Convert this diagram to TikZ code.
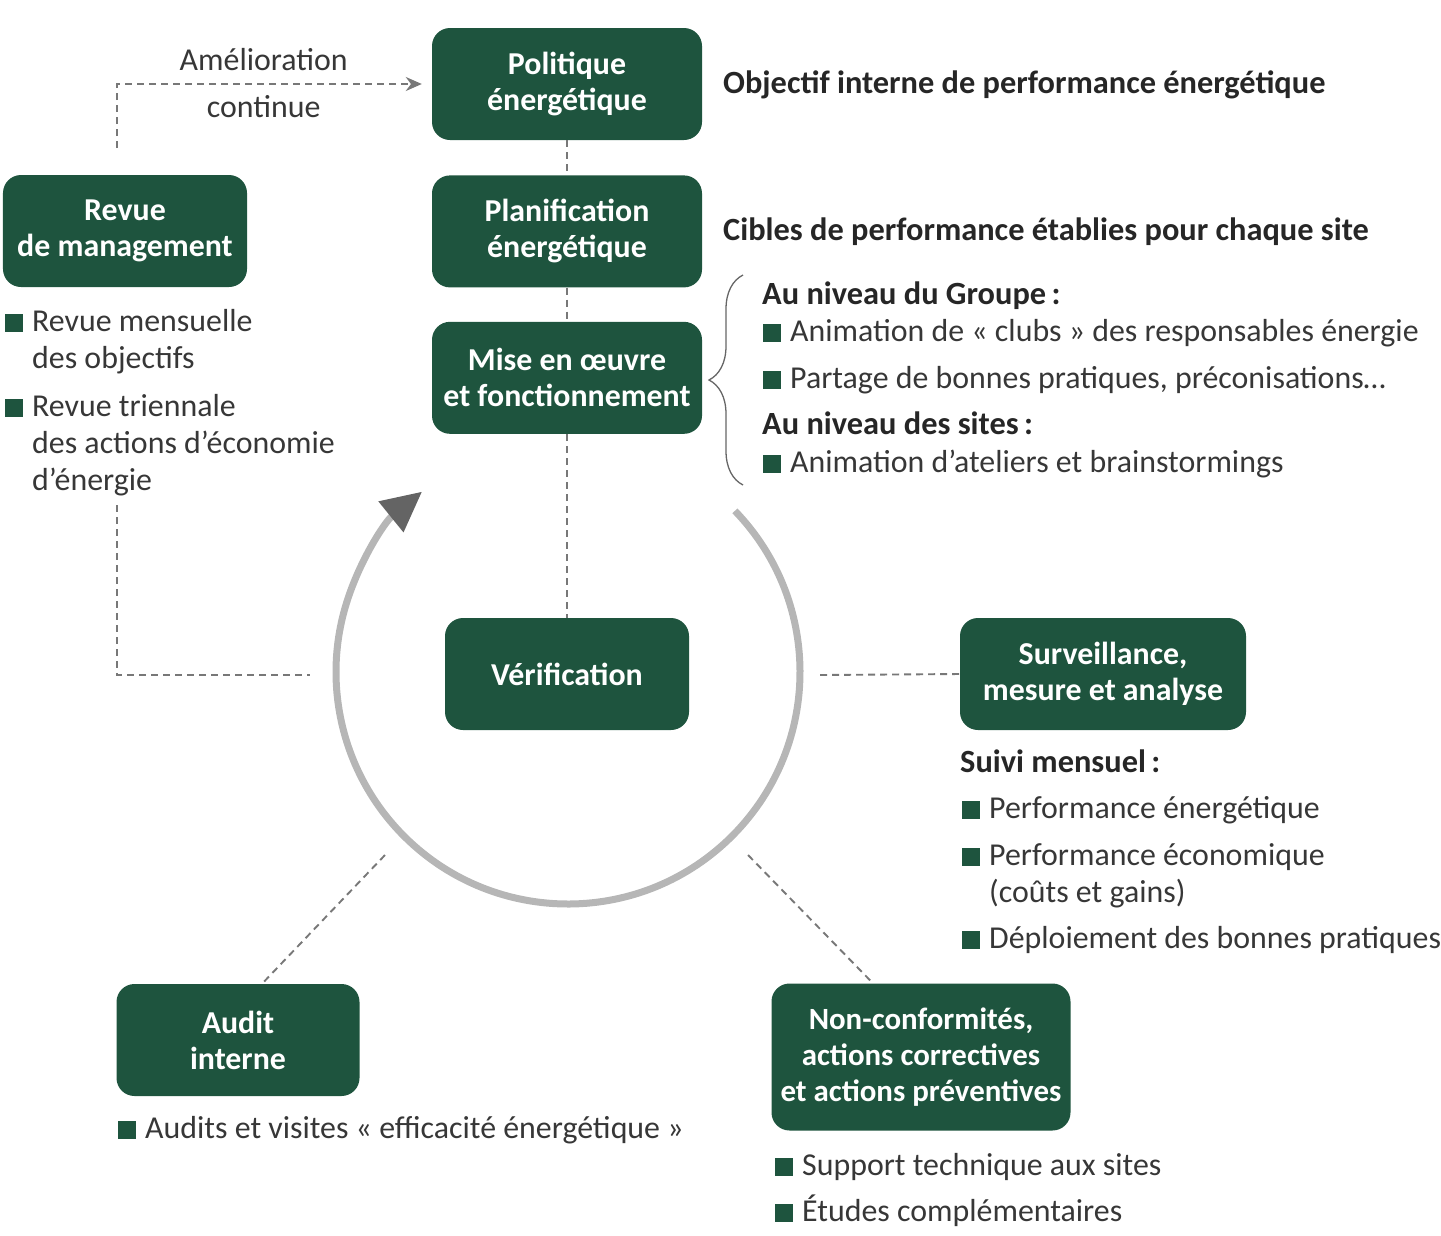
\documentclass[tikz,border=0pt]{standalone}
\usepackage{fontspec}
\setmainfont{Carlito}
\usepackage{tikz}
\usetikzlibrary{positioning, arrows.meta, decorations.pathreplacing, calc}
\definecolor{boxGreen}{RGB}{30,84,62}
\definecolor{textGray}{RGB}{55,55,55}
\definecolor{lineGray}{RGB}{120,120,120}
\definecolor{ringGray}{RGB}{182,182,182}
\definecolor{tipGray}{RGB}{100,100,100}
\tikzstyle{greenBox}=[fill=boxGreen, rounded corners=18bp, text=white, align=center,
  font=\bfseries\fontsize{32}{36}\selectfont, minimum height=112bp, inner sep=0pt]
\tikzstyle{dashLink}=[draw=lineGray, line width=1.9bp, dash pattern=on 7bp off 5bp]
\tikzstyle{ringArrow}=[draw=ringGray, line width=7bp,
  -{Triangle[length=40bp, width=38bp, color=tipGray]}]
\tikzstyle{listText}=[anchor=base west, inner sep=0pt, text=textGray, align=left,
  font=\fontsize{32}{37}\selectfont]
\tikzstyle{headText}=[anchor=base west, inner sep=0pt, text=black!85,
  font=\bfseries\fontsize{32.5}{37}\selectfont]
\newcommand{\sq}{{\color{boxGreen}\rule[-1bp]{18bp}{18bp}}\hspace{9bp}}
\newcommand{\sqgap}{\hspace*{27bp}}

\begin{document}
\begin{tikzpicture}[x=1bp, y=1bp]
  \useasboundingbox (0,0) rectangle (1441,-1235);

  % the boxes of the cycle
  \node[greenBox, minimum width=270bp] (pol) at (567,-84) {Politique\\énergétique};
  \node[greenBox, minimum width=270bp, below=35bp of pol] (plan) {Planification\\énergétique};
  \node[greenBox, minimum width=270bp, below=34bp of plan] (mise) {Mise en œuvre\\et fonctionnement};
  \node[greenBox, minimum width=244bp] (revue) at (125,-231) {Revue\\de management};
  \node[greenBox, minimum width=244bp] (verif) at (567,-674) {Vérification};
  \node[greenBox, minimum width=286bp] (surv) at (1103,-674) {Surveillance,\\mesure et analyse};
  \node[greenBox, minimum width=243bp] (audit) at (238,-1040) {Audit\\interne};
  \node[greenBox, minimum width=299bp, minimum height=147bp, font=\bfseries\fontsize{31}{36}\selectfont]
    (nc) at (921,-1057) {Non-conformités,\\actions correctives\\et actions préventives};

  % texts beside the boxes (base = last line)
  \node[headText] (objectif) at (723,-93) {Objectif interne de performance énergétique};
  \node[headText] (cibles) at (723,-240) {Cibles de performance établies pour chaque site};
  \node[headText] (groupe) at (762,-304) {Au niveau du Groupe\,:};
  \node[listText] (clubs) at (763,-341) {\sq Animation de «~clubs~» des responsables énergie};
  \node[listText] (partage) at (763,-388) {\sq Partage de bonnes pratiques, préconisations…};
  \node[headText] (sites) at (762,-434) {Au niveau des sites\,:};
  \node[listText] (ateliers) at (763,-472) {\sq Animation d’ateliers et brainstormings};

  \node[listText] (mensuelle) at (5,-368) {\sq Revue mensuelle\\\sqgap des objectifs};
  \node[listText] (triennale) at (5,-490) {\sq Revue triennale\\\sqgap des actions d’économie\\\sqgap d’énergie};

  \node[headText] (suivi) at (960,-772) {Suivi mensuel\,:};
  \node[listText] (perfEner) at (962,-818) {\sq Performance énergétique};
  \node[listText] (perfEco) at (962,-902) {\sq Performance économique\\\sqgap(coûts et gains)};
  \node[listText] (deploi) at (962,-948) {\sq Déploiement des bonnes pratiques};

  \node[listText] (visites) at (118,-1138) {\sq Audits et visites «~efficacité énergétique~»};
  \node[listText] (support) at (775,-1175) {\sq Support technique aux sites};
  \node[listText] (etudes) at (775,-1221) {\sq Études complémentaires};

  % the ring
  \draw[ringArrow] (568,-672) ++(44:232) arc[start angle=44, end angle=-231, radius=232];

  % dashed links
  \coordinate (leftTop) at (117,-148);
  \coordinate (leftBot) at (117,-505);
  \coordinate (ringW) at (310,-675);
  \coordinate (ringE) at (820,-675);
  \coordinate (ringSW) at (385,-855);
  \coordinate (ringSE) at (748,-855);
  \draw[dashLink] (pol) -- (plan);
  \draw[dashLink] (plan) -- (mise);
  \draw[dashLink] (mise) -- (verif);
  \draw[dashLink, -{Stealth[length=16bp, width=14bp, color=lineGray]}, shorten >=10bp]
    (leftTop) |- node[pos=0.733, above=9bp, text=textGray, font=\fontsize{32}{37}\selectfont] {Amélioration}
                 node[pos=0.733, below=7bp, text=textGray, font=\fontsize{32}{37}\selectfont] {continue} (pol.west);
  \draw[dashLink] (leftBot) |- (ringW);
  \draw[dashLink] (ringE) -- (surv.west);
  \draw[dashLink] (ringSW) -- ([xshift=24bp]audit.north);
  \draw[dashLink] (ringSE) -- ([xshift=-48bp]nc.north);

  % brace
  \coordinate (braceBot) at (743,-485);
  \coordinate (braceTop) at (743,-275);
  \draw[draw=black!60, line width=1.3bp, decorate, decoration={brace, amplitude=34bp}]
    (braceBot) -- (braceTop);
\end{tikzpicture}
\end{document}
